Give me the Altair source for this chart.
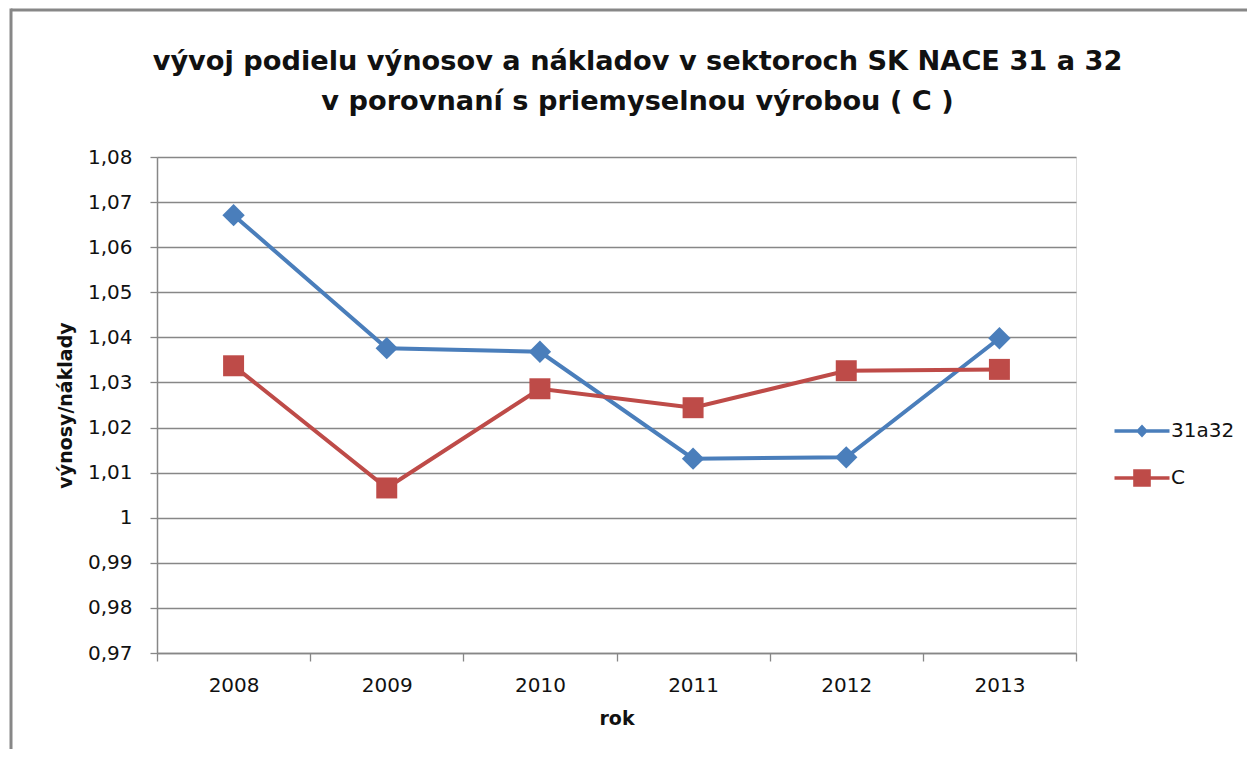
import altair as alt
import pandas as pd

# ---- data ----
years = ["2008", "2009", "2010", "2011", "2012", "2013"]
series_names = ["31a32", "C"]
values_31a32 = [1.0671, 1.0376, 1.0368, 1.0131, 1.0134, 1.0398]
values_C = [1.0337, 1.0066, 1.0286, 1.0244, 1.0326, 1.0329]
y_ticks = [0.97, 0.98, 0.99, 1.00, 1.01, 1.02, 1.03, 1.04, 1.05, 1.06, 1.07, 1.08]

title_lines = [
    "vývoj podielu výnosov a nákladov v sektoroch SK NACE 31 a 32",
    "v porovnaní s priemyselnou výrobou ( C )",
]
x_title = "rok"
y_title = "výnosy/náklady"

colors = ["#4A7EBB", "#BE4B48"]
GRID = "#878787"

rows = []
for name, vals in zip(series_names, [values_31a32, values_C]):
    for yr, v in zip(years, vals):
        rows.append({"year": yr, "value": v, "series": name})
df = pd.DataFrame(rows)

x_enc = alt.X(
    "year:O",
    sort=years,
    scale=alt.Scale(type="band", paddingInner=0, paddingOuter=0),
    axis=alt.Axis(
        title=x_title,
        labelAngle=0,
        tickBand="extent",
        tickSize=8,
        tickColor=GRID,
        tickWidth=1.3,
        domainColor=GRID,
        domainWidth=1.5,
        labelFont="DejaVu Sans",
        labelFontSize=20,
        labelColor="#111111",
        labelPadding=14,
        titleFont="DejaVu Sans",
        titleFontWeight="bold",
        titleFontSize=19,
        titleColor="#111111",
        titlePadding=14,
        grid=False,
    ),
)
y_enc = alt.Y(
    "value:Q",
    scale=alt.Scale(domain=[0.97, 1.08], nice=False, zero=False),
    axis=alt.Axis(
        title=y_title,
        values=y_ticks,
        labelExpr="replace(toString(round(datum.value * 100) / 100), '.', ',')",
        tickSize=7,
        tickColor=GRID,
        tickWidth=1.3,
        domainColor=GRID,
        domainWidth=1.5,
        gridColor=GRID,
        gridWidth=1.5,
        labelFont="DejaVu Sans",
        labelFontSize=20,
        labelColor="#111111",
        labelPadding=18,
        titleFont="DejaVu Sans",
        titleFontWeight="bold",
        titleFontSize=19,
        titleColor="#111111",
        titlePadding=12,
    ),
)

color_scale = alt.Scale(domain=series_names, range=colors)

base = alt.Chart(df)

lines = base.mark_line(strokeWidth=4).encode(
    x=x_enc,
    y=y_enc,
    color=alt.Color("series:N", scale=color_scale, legend=None),
)

diamonds = (
    base.transform_filter(alt.datum.series == series_names[0])
    .mark_point(shape="diamond", filled=True, size=500, opacity=1)
    .encode(x=x_enc, y=y_enc, color=alt.Color("series:N", scale=color_scale, legend=None))
)
squares = (
    base.transform_filter(alt.datum.series == series_names[1])
    .mark_point(shape="square", filled=True, size=440, opacity=1)
    .encode(x=x_enc, y=y_enc, color=alt.Color("series:N", scale=color_scale, legend=None))
)

# legend symbols: a line with the marker in its middle
legend_paths = [
    "M-1.375,-0.09H1.375V0.09H-1.375Z M0,-0.33L0.3,0L0,0.33L-0.3,0Z",
    "M-1.375,-0.09H1.375V0.09H-1.375Z M-0.44,-0.44H0.44V0.44H-0.44Z",
]
leg = alt.Legend(
    title=None,
    orient="none",
    legendX=965,
    legendY=254,
    symbolSize=1600,
    symbolOpacity=1,
    symbolStrokeWidth=0,
    labelFont="DejaVu Sans",
    labelFontSize=20,
    labelColor="#111111",
    labelOffset=9,
    rowPadding=17,
    padding=0,
)
legend_layer = base.mark_point(filled=True, opacity=0).encode(
    x=x_enc,
    y=y_enc,
    color=alt.Color("series:N", scale=color_scale, legend=leg),
    shape=alt.Shape("series:N", scale=alt.Scale(domain=series_names, range=legend_paths), legend=leg),
)

# chart-area border (only the top and left edges are visible in the reference)
frame_df = pd.DataFrame({"f": [0]})
frame_top = alt.Chart(frame_df).mark_rule(stroke=GRID, strokeWidth=3).encode(
    x=alt.value(-146), x2=alt.value(1095), y=alt.value(-147)
)
frame_left = alt.Chart(frame_df).mark_rule(stroke=GRID, strokeWidth=3).encode(
    x=alt.value(-146), y=alt.value(-148.5), y2=alt.value(600)
)

chart = (
    alt.layer(frame_top, frame_left, legend_layer, lines, diamonds, squares)
    .properties(
        width=919,
        height=496,
        title=alt.TitleParams(
            text=title_lines,
            font="DejaVu Sans",
            fontWeight="bold",
            fontSize=27.2,
            color="#111111",
            anchor="middle",
            dx=21,
            dy=147,
            offset=38,
            lineHeight=40,
        ),
        padding={"left": 149, "top": 149, "right": 171, "bottom": 96},
        autosize=alt.AutoSizeParams(type="none"),
    )
    .configure_view(stroke=None)
    .configure(background="white")
)

chart.save("out.html", embed_options={"renderer": "svg", "actions": False})
